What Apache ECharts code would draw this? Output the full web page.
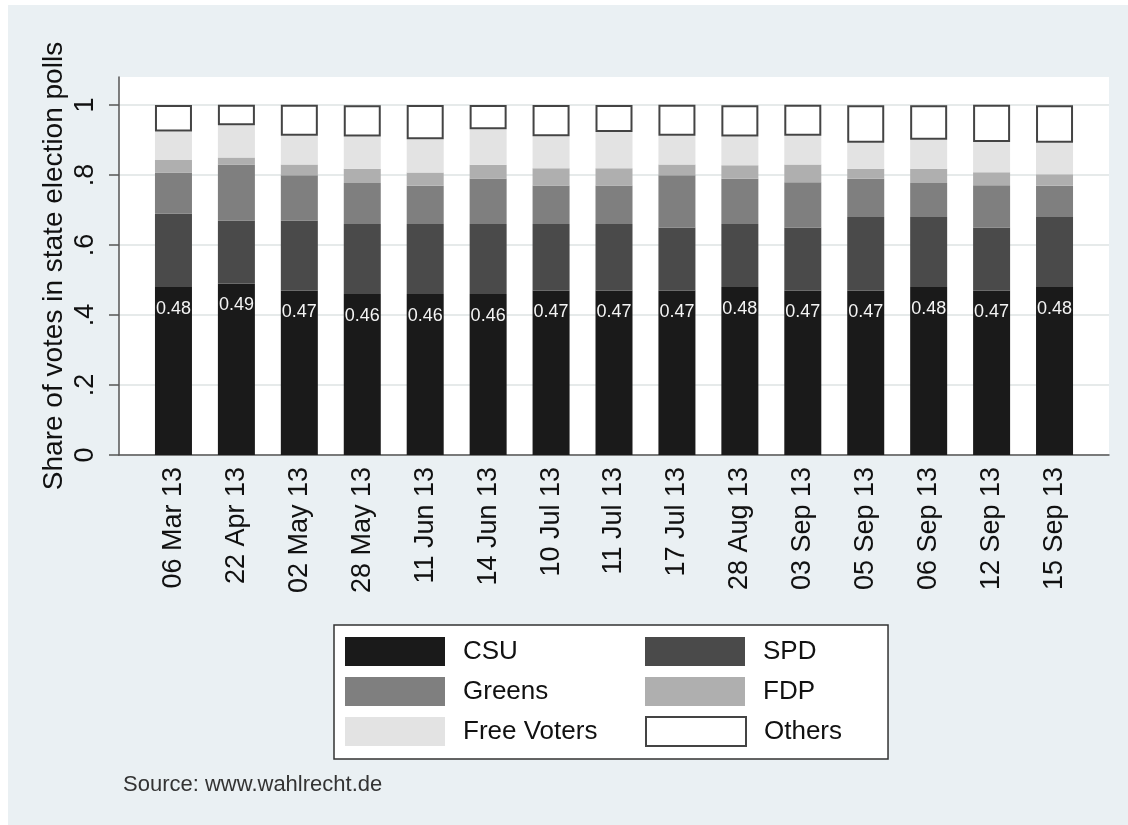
<!DOCTYPE html>
<html>
<head>
<meta charset="utf-8">
<title>State election polls</title>
<script src="https://cdn.jsdelivr.net/npm/echarts@6/dist/echarts.min.js"></script>
<style>
  body { margin: 0; background: #fff; }
  #chart { position: absolute; left: 8px; top: 5px; width: 1120px; height: 820px; }
</style>
</head>
<body>
<div id="chart"></div>
<script>
// poll dates
const dates = ['06 Mar 13', '22 Apr 13', '02 May 13', '28 May 13', '11 Jun 13', '14 Jun 13', '10 Jul 13',
  '11 Jul 13', '17 Jul 13', '28 Aug 13', '03 Sep 13', '05 Sep 13', '06 Sep 13', '12 Sep 13', '15 Sep 13']

// vote shares
const csu    = [0.48, 0.49, 0.47, 0.46, 0.46, 0.46, 0.47, 0.47, 0.47, 0.48, 0.47, 0.47, 0.48, 0.47, 0.48]
const spd    = [0.21, 0.18, 0.20, 0.20, 0.20, 0.20, 0.19, 0.19, 0.18, 0.18, 0.18, 0.21, 0.20, 0.18, 0.20]
const greens = [0.117, 0.16, 0.129, 0.117, 0.109, 0.13, 0.11, 0.11, 0.149, 0.129, 0.129, 0.109, 0.097, 0.121, 0.089]
const fdp    = [0.036, 0.02, 0.031, 0.041, 0.038, 0.039, 0.049, 0.049, 0.031, 0.039, 0.051, 0.029, 0.041, 0.037, 0.033]
const freeVoters = [0.081, 0.092, 0.082, 0.092, 0.095, 0.102, 0.092, 0.104, 0.082, 0.082, 0.082, 0.074, 0.083, 0.086, 0.09]
const others = [0.076, 0.059, 0.089, 0.089, 0.098, 0.069, 0.089, 0.077, 0.089, 0.089, 0.089, 0.107, 0.098, 0.107, 0.107]

const font = '"Liberation Sans", Arial, sans-serif'

function bar(name, data, color, extra) {
  return Object.assign({
    name: name,
    type: 'bar',
    stack: 'total',
    xAxisIndex: 2,
    yAxisIndex: 2,
    barWidth: 37,
    data: data,
    itemStyle: { color: color },
    emphasis: { disabled: true }
  }, extra || {})
}

const hidden = { axisLine: { show: false }, axisTick: { show: false }, axisLabel: { show: false }, splitLine: { show: false } }

const option = {
  backgroundColor: '#eaf0f3',
  animation: false,
  grid: [
    // white plot region and its axis lines (runs a bit above 1)
    { left: 111, top: 72, width: 990, height: 378, show: true, backgroundColor: '#fff', borderWidth: 0 },
    // scale: 0..1
    { left: 111, top: 100, width: 990, height: 350 },
    // bars, inset so first/last bars sit like the original
    { left: 134, top: 100, width: 944, height: 350 }
  ],
  xAxis: [
    Object.assign({}, hidden, {
      gridIndex: 0, type: 'value', min: 0, max: 1,
      axisLine: { show: true, lineStyle: { color: '#555', width: 1.5 } }
    }),
    Object.assign({}, hidden, { gridIndex: 1, type: 'value', min: 0, max: 1 }),
    {
      gridIndex: 2, type: 'category', data: dates,
      axisLine: { show: false }, axisTick: { show: false },
      axisLabel: { rotate: 90, margin: 12, fontSize: 27, color: '#111', fontFamily: font }
    }
  ],
  yAxis: [
    Object.assign({}, hidden, {
      gridIndex: 0, type: 'value', min: 0, max: 1,
      name: 'Share of votes in state election polls',
      nameLocation: 'middle', nameGap: 51,
      nameTextStyle: { fontSize: 28, color: '#111', fontFamily: font },
      axisLine: { show: true, lineStyle: { color: '#555', width: 1.5 } }
    }),
    {
      gridIndex: 1, type: 'value', min: 0, max: 1, interval: 0.2,
      axisLine: { show: false },
      axisTick: { show: true, length: 10, lineStyle: { color: '#555', width: 1.5 } },
      axisLabel: {
        rotate: 90, margin: 20, fontSize: 27, color: '#111', fontFamily: font,
        formatter: function (v) {
          const r = Math.round(v * 10) / 10
          if (r === 0) return '0'
          if (r === 1) return '1'
          return String(r).replace('0.', '.')
        }
      },
      splitLine: { show: true, lineStyle: { color: '#e6eaea', width: 2 } }
    },
    Object.assign({}, hidden, { gridIndex: 2, type: 'value', min: 0, max: 1 })
  ],
  legend: {
    left: 326, top: 620,
    itemWidth: 100, itemHeight: 29, itemGap: 11,
    icon: 'rect',
    padding: [12, 46, 12, 11],
    backgroundColor: '#fff', borderColor: '#333', borderWidth: 1.5,
    selectedMode: false,
    textStyle: { fontSize: 26, color: '#111', fontFamily: font, lineHeight: 29, padding: [0, 0, 0, 13] },
    data: [
      { name: 'CSU', textStyle: { width: 171 } },
      { name: 'SPD' },
      { name: 'Greens', textStyle: { width: 171 } },
      { name: 'FDP' },
      { name: 'Free Voters', textStyle: { width: 171 } },
      { name: 'Others', itemStyle: { color: '#fff', borderColor: '#444', borderWidth: 2 } }
    ]
  },
  graphic: [
    {
      type: 'text', left: 115, top: 769,
      style: { text: 'Source: www.wahlrecht.de', fontSize: 22, fill: '#333', fontFamily: font }
    }
  ],
  series: [
    bar('CSU', csu, '#1a1a1a', {
      label: {
        show: true, position: 'insideTop', distance: 13,
        fontSize: 18, color: '#f4f4f4', fontFamily: font,
        formatter: function (p) { return p.value.toFixed(2) }
      }
    }),
    bar('SPD', spd, '#4a4a4a'),
    bar('Greens', greens, '#7f7f7f'),
    bar('FDP', fdp, '#afafaf'),
    bar('Free Voters', freeVoters, '#e3e3e3'),
    bar('Others', others, '#fff', { itemStyle: { color: '#fff', borderColor: '#444', borderWidth: 2 } })
  ]
}

const myChart = echarts.init(document.getElementById('chart'))
myChart.setOption(option)
</script>
</body>
</html>
